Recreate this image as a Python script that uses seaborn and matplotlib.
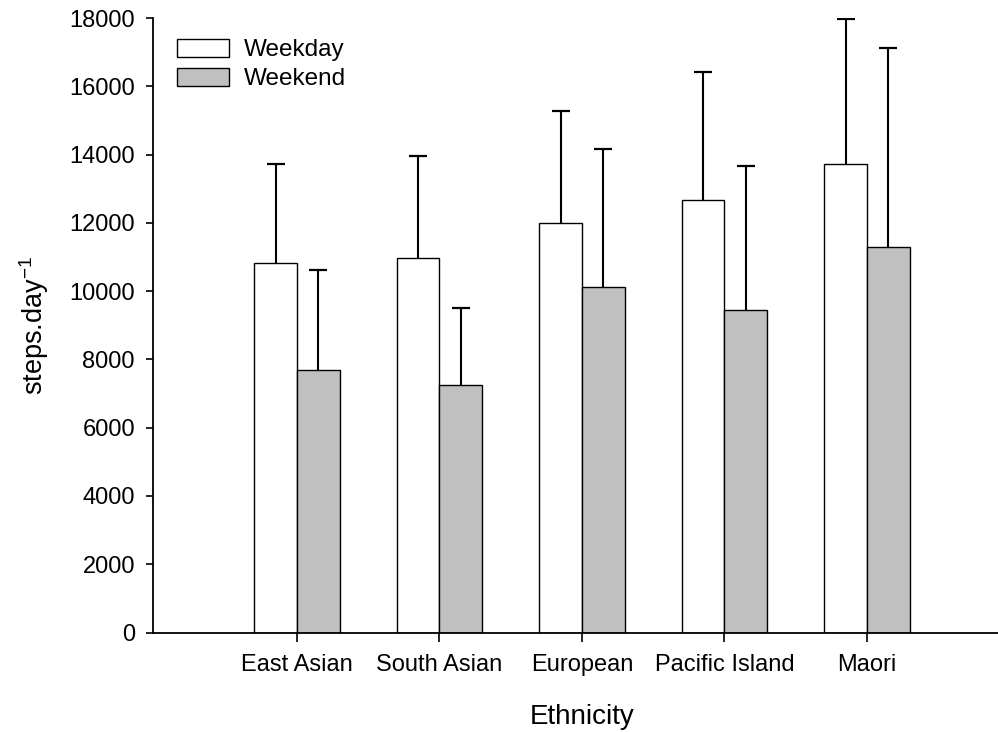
import numpy as np
import pandas as pd
import matplotlib
matplotlib.use("Agg")
import matplotlib.pyplot as plt
import seaborn as sns

# Mean daily step counts and standard deviations by ethnic group
ethnicities = ["East Asian", "South Asian", "European", "Pacific Island", "Maori"]
weekday_mean = [10830, 10970, 12000, 12670, 13710]
weekday_sd = [2890, 2990, 3270, 3760, 4260]
weekend_mean = [7700, 7240, 10130, 9450, 11300]
weekend_sd = [2910, 2260, 4030, 4220, 5820]
day_types = ["Weekday", "Weekend"]
y_ticks = [0, 2000, 4000, 6000, 8000, 10000, 12000, 14000, 16000, 18000]

df = pd.DataFrame({
    "Ethnicity": ethnicities * 2,
    "steps": weekday_mean + weekend_mean,
    "sd": weekday_sd + weekend_sd,
    "Day": [day_types[0]] * len(ethnicities) + [day_types[1]] * len(ethnicities),
})

sns.set_theme(style="ticks")
plt.rcParams["font.family"] = ["Liberation Sans", "DejaVu Sans"]
plt.rcParams["text.color"] = "black"
plt.rcParams["mathtext.fontset"] = "custom"
plt.rcParams["mathtext.rm"] = "Liberation Sans"
plt.rcParams["mathtext.it"] = "Liberation Sans"

fig = plt.figure(figsize=(9.98, 7.32), dpi=100)
ax = fig.add_axes([0.1533, 0.1359, 0.8467, 0.8395])

sns.barplot(
    data=df, x="Ethnicity", y="steps", hue="Day", order=ethnicities,
    hue_order=day_types,
    palette={"Weekday": "white", "Weekend": "#C0C0C0"},
    edgecolor="black", linewidth=1.0, width=0.6, gap=0,
    errorbar=None, ax=ax, legend=True,
)

# Upper error bars (mean + SD) drawn from each bar's centre
for container, level in zip(ax.containers, day_types):
    sub = df[df["Day"] == level].set_index("Ethnicity").loc[ethnicities]
    xs = np.array([b.get_x() + b.get_width() / 2 for b in container])
    tops = sub["steps"].values + sub["sd"].values
    ax.vlines(xs, sub["steps"].values, tops, color="black", linewidth=1.5, zorder=3)
    ax.plot(xs, tops, linestyle="none", marker="_", markersize=13,
            markeredgewidth=1.6, color="black", zorder=3)

ax.set_xlim(-1.01, 4.92)
ax.set_ylim(0, 18000)
ax.set_yticks(y_ticks)
ax.set_yticklabels([str(v) for v in y_ticks])

for side in ("top", "right"):
    ax.spines[side].set_visible(False)
for side in ("left", "bottom"):
    ax.spines[side].set_linewidth(1.3)
    ax.spines[side].set_color("black")

ax.tick_params(axis="y", direction="out", length=5, width=1.2, pad=8,
               labelsize=17, colors="black")
ax.tick_params(axis="x", direction="out", length=6.5, width=1.2, pad=9,
               labelsize=17, colors="black")

ax.set_xlabel("Ethnicity", fontsize=20, labelpad=20, color="black")
ax.xaxis.label.set_x(0.508)
ax.set_ylabel(r"steps.day$^{\mathregular{-1}}$", fontsize=19.5, labelpad=13, color="black")

leg = ax.legend(
    loc="upper left", bbox_to_anchor=(0.028, 0.966), frameon=False,
    fontsize=17.5, handlelength=2.15, handleheight=0.74, handletextpad=0.62,
    labelspacing=0.28, borderpad=0, borderaxespad=0,
)
for h in leg.legend_handles:
    h.set_edgecolor("black")
    h.set_linewidth(1.0)
for t in leg.get_texts():
    t.set_color("black")

ax.set_facecolor("white")
fig.patch.set_facecolor("white")
fig.savefig("out.png", dpi=100)
